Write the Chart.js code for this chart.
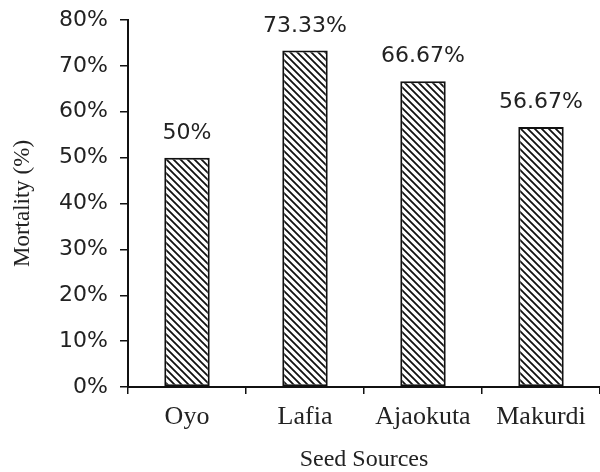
<!DOCTYPE html>
<html>
<head>
<meta charset="utf-8">
<script src="https://cdn.jsdelivr.net/npm/chart.js@4.4.1/dist/chart.umd.min.js"></script>
<style>
  html, body { margin: 0; padding: 0; background: #fff; }
  #wrap { width: 600px; height: 472px; position: relative; }
</style>
</head>
<body>
<div id="wrap"><canvas id="c" width="600" height="472"></canvas></div>
<script>
const categories = ["Oyo", "Lafia", "Ajaokuta", "Makurdi"];
const mortality = [50, 73.33, 66.67, 56.67];
const valueLabels = ["50%", "73.33%", "66.67%", "56.67%"];
const xTitle = "Seed Sources";
const yTitle = "Mortality (%)";

function hatch() {
  const s = 7;
  const p = document.createElement('canvas');
  p.width = s; p.height = s;
  const g = p.getContext('2d');
  g.fillStyle = '#fff';
  g.fillRect(0, 0, s, s);
  g.strokeStyle = '#111';
  g.lineWidth = 1.8;
  g.beginPath();
  g.moveTo(-1, -1); g.lineTo(s + 1, s + 1);
  g.moveTo(-1, s - 1); g.lineTo(1, s + 1);
  g.moveTo(s - 1, -1); g.lineTo(s + 1, 1);
  g.stroke();
  return document.getElementById('c').getContext('2d').createPattern(p, 'repeat');
}

const labelPlugin = {
  id: 'valLabels',
  afterDatasetsDraw(chart) {
    const ctx = chart.ctx;
    const meta = chart.getDatasetMeta(0);
    ctx.save();
    ctx.font = '22px "DejaVu Sans"';
    ctx.fillStyle = '#222';
    ctx.textAlign = 'center';
    ctx.textBaseline = 'alphabetic';
    meta.data.forEach((bar, i) => {
      ctx.fillText(valueLabels[i], bar.x, bar.y - 19);
    });
    ctx.restore();
  }
};

new Chart(document.getElementById('c'), {
  type: 'bar',
  data: {
    labels: categories,
    datasets: [{
      data: mortality,
      backgroundColor: hatch(),
      borderColor: '#111',
      borderWidth: 2,
      borderSkipped: false,
      categoryPercentage: 1,
      barPercentage: 0.385
    }]
  },
  options: {
    responsive: false,
    animation: false,
    devicePixelRatio: 1,
    layout: { padding: { top: 20, right: 0, left: 0, bottom: 0 } },
    plugins: { legend: { display: false }, tooltip: { enabled: false } },
    scales: {
      x: {
        offset: true,
        grid: { display: true, drawOnChartArea: false, drawTicks: true, tickLength: 7, color: '#111', offset: true, lineWidth: 1.5 },
        border: { display: true, color: '#111', width: 2 },
        ticks: { color: '#222', font: { family: '"Liberation Serif"', size: 26 }, padding: 8, maxRotation: 0 },
        title: { display: true, text: xTitle, color: '#222', font: { family: '"Liberation Serif"', size: 24, lineHeight: 1 }, padding: { top: 0, bottom: 0 } },
        afterFit(scale) { scale.height = 85; scale.paddingLeft = 0; scale.paddingRight = 0; }
      },
      y: {
        min: 0, max: 80,
        ticks: { stepSize: 10, color: '#222', font: { family: '"DejaVu Sans"', size: 22 }, padding: 12, callback: v => v + '%' },
        grid: { display: true, drawOnChartArea: false, drawTicks: true, tickLength: 8, color: '#111', lineWidth: 1.5 },
        border: { display: true, color: '#111', width: 2 },
        title: { display: true, text: yTitle, color: '#222', font: { family: '"Liberation Serif"', size: 23, lineHeight: 1 }, padding: { top: 11, bottom: 0 } },
        afterFit(scale) { scale.width = 128; scale.paddingTop = 0; scale.paddingBottom = 0; }
      }
    }
  },
  plugins: [labelPlugin]
});
</script>
</body>
</html>
